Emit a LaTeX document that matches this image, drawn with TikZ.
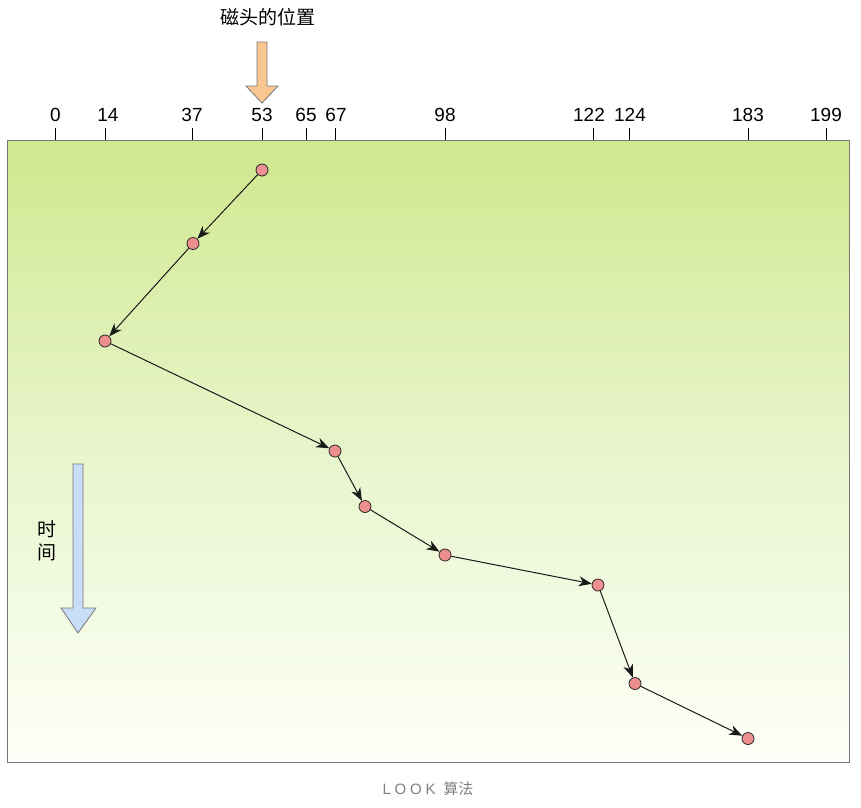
\documentclass[tikz,border=0pt]{standalone}
\usepackage{fontspec}
\setmainfont{Liberation Sans}
\newfontfamily\cjk{Noto Sans CJK SC}
\newfontfamily\capfont[LetterSpace=25]{Liberation Sans}
\usetikzlibrary{arrows.meta}
\definecolor{greentop}{HTML}{D0E88E}
\definecolor{greenmid}{HTML}{E8F5CC}
\definecolor{greenbot}{HTML}{FDFFF8}
\definecolor{reqred}{HTML}{EE8F8F}
\definecolor{headorange}{HTML}{FAC692}
\definecolor{timeblue}{HTML}{C8DDF7}
\definecolor{edgegray}{HTML}{777777}

\begin{document}
\begin{tikzpicture}[x=1pt,y=-1pt,
	req/.style={circle,draw=black!85,line width=0.8pt,fill=reqred,inner sep=0pt,minimum size=12pt},
	seek/.style={-{Stealth[length=13pt,width=10pt,inset=4pt]},line width=1pt,black!90},
	lbl/.style={font=\fontsize{19}{21}\selectfont},
	cjklbl/.style={font=\fontsize{19}{23}\selectfont\cjk}]
	\useasboundingbox (0,0) rectangle (861,807);
	% platter area
	\shade[top color=greentop,bottom color=greenbot,middle color=greenmid] (7,140) rectangle (849,762);
	\draw[edgegray,line width=1pt] (7,140) rectangle (849,762);
	% cylinder scale
	\draw[line width=0.9pt] (55.5,128) -- (55.5,140);
	\draw[line width=0.9pt] (105,128) -- (105,140);
	\draw[line width=0.9pt] (192,128) -- (192,140);
	\draw[line width=0.9pt] (262,128) -- (262,140);
	\draw[line width=0.9pt] (306,128) -- (306,140);
	\draw[line width=0.9pt] (335,128) -- (335,140);
	\draw[line width=0.9pt] (445,128) -- (445,140);
	\draw[line width=0.9pt] (593,128) -- (593,140);
	\draw[line width=0.9pt] (629,128) -- (629,140);
	\draw[line width=0.9pt] (748,128) -- (748,140);
	\draw[line width=0.9pt] (826,128) -- (826,140);
	\node[lbl] (c0) at (55.5,115) {0};
	\node[lbl] (c14) at (108,115) {14};
	\node[lbl] (c37) at (192,115) {37};
	\node[lbl] (c53) at (262,115) {53};
	\node[lbl] (c65) at (306,115) {65};
	\node[lbl] (c67) at (336,115) {67};
	\node[lbl] (c98) at (445,115) {98};
	\node[lbl] (c122) at (589,115) {122};
	\node[lbl] (c124) at (630,115) {124};
	\node[lbl] (c183) at (748,115) {183};
	\node[lbl] (c199) at (826,115) {199};
	% head position
	\node[cjklbl] (head) at (268,17) {磁头的位置};
	\draw[edgegray,fill=headorange,line width=0.8pt] (257,42) -- (267,42) -- (267,86) -- (278,86)
		-- (262,103) -- (246,86) -- (257,86) -- cycle;
	% time axis
	\draw[edgegray,fill=timeblue,line width=0.8pt] (73,464) -- (83,464) -- (83,608) -- (96,608)
		-- (78,633) -- (61,608) -- (73,608) -- cycle;
	\node[cjklbl,align=center] (time) at (47,541) {时\\间};
	% requests in service order
	\node[req] (r1) at (262,170) {};
	\node[req] (r2) at (193,243.5) {};
	\node[req] (r3) at (105,341) {};
	\node[req] (r4) at (335,451) {};
	\node[req] (r5) at (365,506.5) {};
	\node[req] (r6) at (445,555) {};
	\node[req] (r7) at (598,585) {};
	\node[req] (r8) at (635,683.5) {};
	\node[req] (r9) at (748,738.5) {};
	\draw[seek] (r1) -- (r2);
	\draw[seek] (r2) -- (r3);
	\draw[seek] (r3) -- (r4);
	\draw[seek] (r4) -- (r5);
	\draw[seek] (r5) -- (r6);
	\draw[seek] (r6) -- (r7);
	\draw[seek] (r7) -- (r8);
	\draw[seek] (r8) -- (r9);
	% caption
	\node[text=black!50,font=\fontsize{15}{18}\selectfont] (cap) at (428,789)
		{\capfont LOOK\ \cjk 算法};
\end{tikzpicture}
\end{document}
